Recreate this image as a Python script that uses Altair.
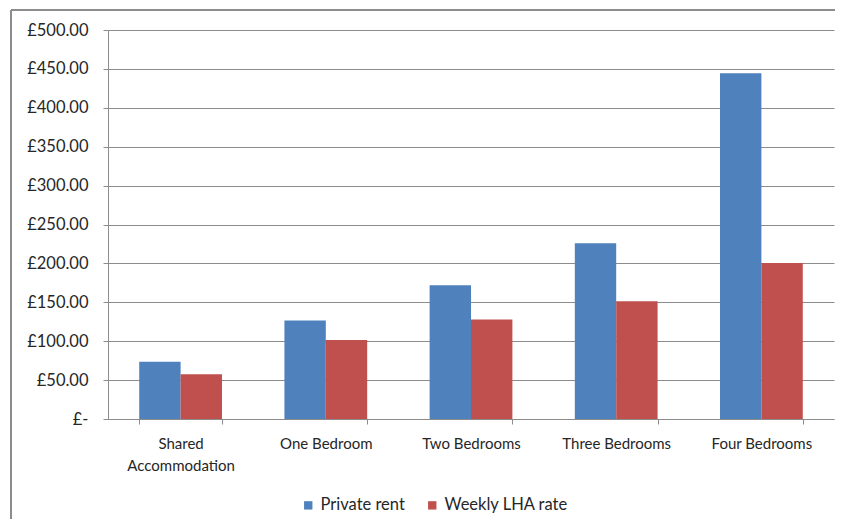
import altair as alt
import pandas as pd

categories = ["Shared Accommodation", "One Bedroom", "Two Bedrooms", "Three Bedrooms", "Four Bedrooms"]
series = ["Private rent", "Weekly LHA rate"]
private_rent = [73.5, 126.5, 172.0, 226.0, 444.5]
lha_rate = [57.5, 101.5, 128.0, 151.5, 200.5]
colors = ["#4F81BD", "#C0504D"]
y_ticks = [0, 50, 100, 150, 200, 250, 300, 350, 400, 450, 500]

rows = []
for c, p, l in zip(categories, private_rent, lha_rate):
    rows.append({"category": c, "series": series[0], "value": p})
    rows.append({"category": c, "series": series[1], "value": l})
df = pd.DataFrame(rows)

FONT = "Lato"
GRID = "#8C8C8C"

bars = alt.Chart(df).mark_bar().encode(
    x=alt.X("category:N", sort=categories,
            scale=alt.Scale(paddingInner=0.43, paddingOuter=0.215),
            axis=alt.Axis(title=None, labelAngle=0, tickBand="extent",
                          labelExpr="datum.label == 'Shared Accommodation' ? ['Shared', 'Accommodation'] : datum.label",
                          labelFont=FONT, labelFontSize=15, labelColor="#262626",
                          labelLineHeight=22, labelPadding=12, tickSize=5,
                          tickColor=GRID, domainColor=GRID, grid=False)),
    xOffset=alt.XOffset("series:N", sort=series),
    y=alt.Y("value:Q", scale=alt.Scale(domain=[0, 500], nice=False),
            axis=alt.Axis(title=None, values=y_ticks,
                          labelExpr="datum.value == 0 ? '£-' : '£' + format(datum.value, '.2f')",
                          labelFont=FONT, labelFontSize=16.5, labelColor="#262626",
                          labelPadding=15, tickSize=5, tickColor=GRID,
                          domainColor=GRID, gridColor=GRID, gridOpacity=1)),
    color=alt.Color("series:N", sort=series,
                    scale=alt.Scale(domain=series, range=colors),
                    legend=alt.Legend(title=None, orient="none", direction="horizontal",
                                      legendX=192, legendY=467, symbolType="square",
                                      symbolSize=70, symbolStrokeWidth=0,
                                      labelFont=FONT, labelFontSize=16.5, labelColor="#262626",
                                      columnPadding=19, labelOffset=4)),
)

frame_left = alt.Chart(alt.Data(values=[{}])).mark_rule(
    stroke="#8C8C8C", strokeWidth=2
).encode(
    x=alt.value(-97), y=alt.value(-20), y2=alt.value(520)
)
frame_top = alt.Chart(alt.Data(values=[{}])).mark_rule(
    stroke="#8C8C8C", strokeWidth=2
).encode(
    x=alt.value(-97), x2=alt.value(760), y=alt.value(-20)
)

chart = alt.layer(frame_left, frame_top, bars).properties(
    width=726, height=389,
    background="white",
    autosize=alt.AutoSizeParams(type="none"),
    padding={"left": 100, "top": 22, "right": 1, "bottom": 100},
).configure_view(strokeWidth=0, stroke="transparent")

chart.save("out.html", embed_options={"renderer": "svg", "actions": False})
